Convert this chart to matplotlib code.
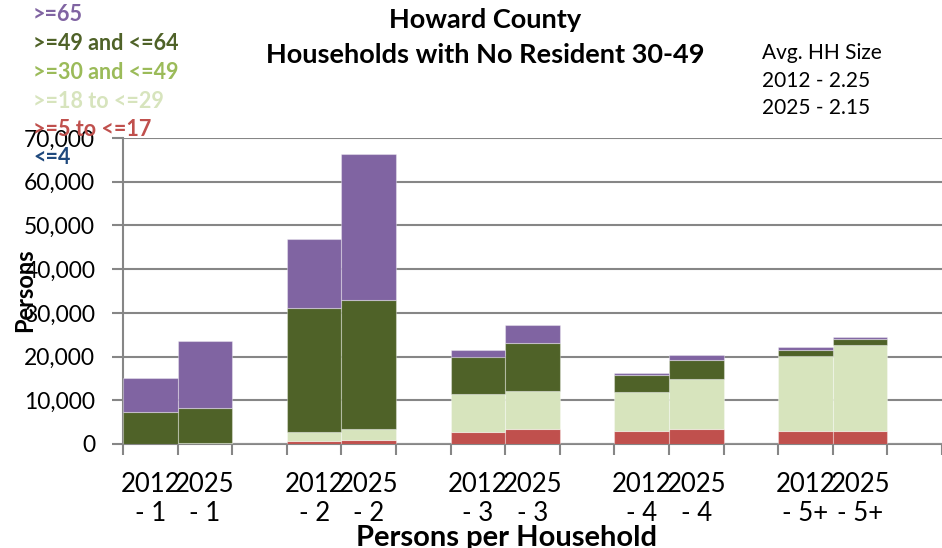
import matplotlib
matplotlib.use("Agg")
import matplotlib.pyplot as plt
import numpy as np

plt.rcParams['font.family'] = ['Lato', 'DejaVu Sans']

# Data
categories = ["2012\n- 1", "2025\n- 1", "",
              "2012\n- 2", "2025\n- 2", "",
              "2012\n- 3", "2025\n- 3", "",
              "2012\n- 4", "2025\n- 4", "",
              "2012\n- 5+", "2025\n- 5+", ""]

age_le4 = [0, 0, 0, 0, 0, 0, 0, 0, 0, 0, 0, 0, 0, 0, 0]
age_5_17 = [0, 0, 0, 690, 990, 0, 2750, 3430, 0, 2970, 3430, 0, 3050, 2950, 0]
age_18_29 = [0, 200, 0, 2120, 2440, 0, 8620, 8770, 0, 9000, 11370, 0, 17090, 19630, 0]
age_30_49 = [0, 0, 0, 0, 0, 0, 0, 0, 0, 0, 0, 0, 0, 0, 0]
age_49_64 = [7250, 7970, 0, 28380, 29520, 0, 8530, 10840, 0, 3890, 4500, 0, 1440, 1420, 0]
age_65 = [7920, 15400, 0, 15710, 33480, 0, 1680, 4190, 0, 310, 1000, 0, 620, 500, 0]

series = [
    ("<=4", age_le4, "#4F81BD", "#1F497D"),
    (">=5 to <=17", age_5_17, "#C0504D", "#C0504D"),
    (">=18 to <=29", age_18_29, "#D7E4BD", "#D7E4BD"),
    (">=30 and <=49", age_30_49, "#9BBB59", "#9BBB59"),
    (">=49 and <=64", age_49_64, "#4F6228", "#4F6228"),
    (">=65", age_65, "#8064A2", "#8064A2"),
]

fig = plt.figure(figsize=(9.42, 5.48), dpi=100)
ax = fig.add_axes([0.1306, 0.1898, 0.8694, 0.5584])

x = np.arange(len(categories))
bottom = np.zeros(len(categories))
for name, vals, col, _ in series:
    vals = np.array(vals, dtype=float)
    ax.bar(x, vals, width=1.0, bottom=bottom, color=col,
           edgecolor=(1, 1, 1, 0.35), linewidth=0.8, zorder=3)
    bottom += vals

ax.set_xlim(-0.5, len(categories) - 0.5)
ax.set_ylim(0, 70000)
ax.set_yticks(np.arange(0, 70001, 10000))
ax.set_yticklabels([f"{v:,}" for v in range(0, 70001, 10000)], fontsize=16.5)
ax.yaxis.grid(True, color="#868686", linewidth=1.5, zorder=0)
ax.set_axisbelow(True)

ax.set_xticks(x)
ax.set_xticklabels(categories, fontsize=18.5, linespacing=1.16)
ax.set_xticks(np.arange(-0.5, len(categories)), minor=True)
ax.tick_params(axis="x", which="major", length=0, pad=20.5)
ax.tick_params(axis="x", which="minor", length=8, width=1.5, color="#868686")
ax.tick_params(axis="y", length=8, width=1.5, color="#868686", pad=12)

for side in ["top", "right"]:
    ax.spines[side].set_visible(False)
for side in ["left", "bottom"]:
    ax.spines[side].set_color("#868686")
    ax.spines[side].set_linewidth(1.5)

ax.set_ylabel("Persons", fontsize=17, fontweight="bold", va="center")
ax.yaxis.set_label_coords(-0.1197, 0.503)
ax.set_xlabel("Persons per Household", fontsize=21, fontweight="bold", va="center")
ax.xaxis.set_label_coords(0.468, -0.307)

fig.text(0.515, 0.9635, "Howard County", ha="center", va="center",
         fontsize=19.5, fontweight="bold")
fig.text(0.515, 0.8996, "Households with No Resident 30-49", ha="center", va="center",
         fontsize=19.5, fontweight="bold")

# legend drawn as coloured text, top-left
legend_y = [0.973, 0.920, 0.867, 0.814, 0.763, 0.712]
for (name, _, _, tcol), yy in zip(series[::-1], legend_y):
    fig.text(0.035, yy, name, color=tcol, fontsize=15.5, fontweight="bold",
             ha="left", va="center")

hh_lines = ["Avg. HH Size", "2012 - 2.25", "2025 - 2.15"]
hh_y = [0.903, 0.853, 0.803]
for txt, yy in zip(hh_lines, hh_y):
    fig.text(0.809, yy, txt, ha="left", va="center", fontsize=15)

fig.savefig("out.png", dpi=100)
